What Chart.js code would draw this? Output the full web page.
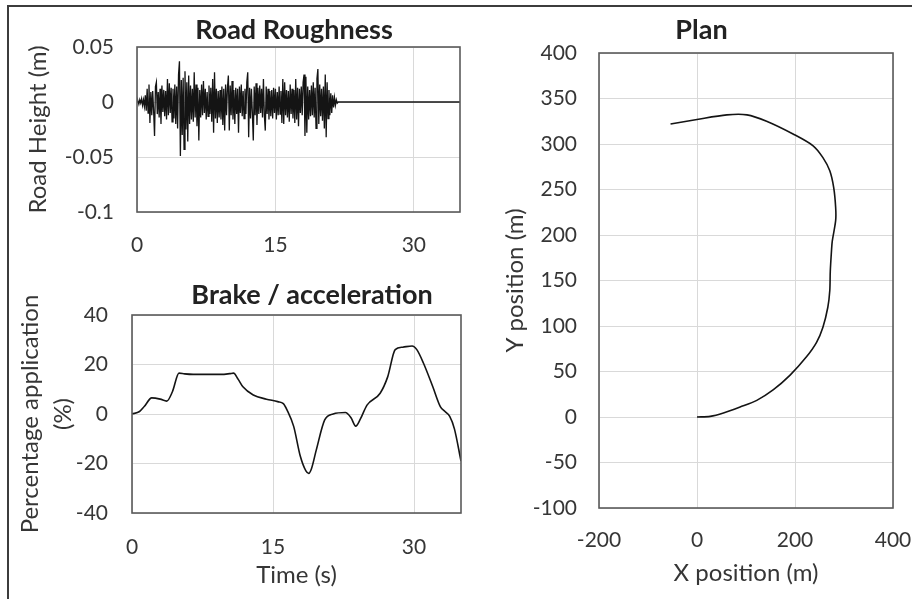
<!DOCTYPE html>
<html><head><meta charset="utf-8">
<script src="https://cdn.jsdelivr.net/npm/chart.js@4/dist/chart.umd.min.js"></script>
<style>
html,body{margin:0;padding:0;background:#fff;width:912px;height:599px;overflow:hidden;}
#frame{position:absolute;left:7px;top:5px;right:-10px;bottom:-10px;border-left:2px solid #3c3c3c;border-top:2px solid #3c3c3c;}
canvas{position:absolute;}
</style></head><body>
<div id="frame"></div>
<canvas id="c1" width="568" height="257" style="left:10px;top:8px"></canvas>
<canvas id="c2" width="604" height="334" style="left:10px;top:265px"></canvas>
<canvas id="c3" width="421" height="591" style="left:491px;top:8px"></canvas>
<script>
// ---------- data ----------
const roughStep = 0.1;      // seconds between road samples
const roughEndTime = 35;    // flat road until end of run
const roughHeight = [
 0, 0.001, -0.002, 0.002, -0.001, 0.003, -0.003, 0.002, -0.004, 0.006,
 -0.008, 0.012, -0.010, 0.016, -0.019, 0.009, -0.012, 0.010, -0.008, -0.031,
 0.014, 0.018, -0.011, 0.009, -0.014, 0.012, -0.020, 0.015, -0.009, 0.011,
 -0.013, 0.010, -0.016, 0.021, -0.012, 0.017, -0.010, 0.013, -0.018, 0.012,
 -0.015, 0.016, -0.020, 0.014, -0.024, 0.025, 0.037, -0.049, 0.020, -0.030,
 0.022, -0.043, 0.028, -0.025, 0.018, -0.036, 0.024, -0.020, 0.015, -0.016,
 0.012, -0.018, 0.027, -0.014, 0.016, -0.022, 0.013, -0.035, 0.011, -0.014,
 0.016, -0.012, 0.019, -0.010, 0.012, -0.016, 0.009, -0.013, 0.015, -0.011,
 0.013, -0.018, 0.021, -0.028, 0.027, -0.015, 0.012, -0.019, 0.010, -0.014,
 0.011, -0.016, 0.014, -0.021, 0.012, -0.026, 0.016, -0.012, 0.013, 0.024,
 -0.026, 0.015, -0.012, 0.019, -0.016, 0.011, -0.020, 0.013, -0.011, 0.012,
 -0.028, 0.014, -0.010, 0.016, -0.013, 0.010, -0.015, 0.012, -0.011, 0.018,
 0.027, -0.032, 0.013, -0.015, 0.012, -0.010, -0.035, 0.014, -0.012, 0.017,
 -0.021, 0.013, -0.011, 0.015, -0.010, 0.012, -0.014, 0.021, -0.012, -0.026,
 0.014, -0.011, 0.012, -0.016, 0.010, -0.013, 0.011, -0.015, 0.013, -0.010,
 0.012, -0.016, 0.009, -0.012, 0.014, -0.011, 0.010, -0.019, 0.021, -0.020,
 0.018, -0.012, 0.011, -0.014, 0.010, -0.018, 0.016, -0.011, 0.012, -0.015,
 0.011, -0.019, 0.021, -0.016, 0.013, -0.022, 0.012, -0.010, 0.014, -0.012,
 0.018, 0.025, -0.031, 0.023, -0.028, 0.014, -0.016, 0.011, -0.013, 0.015,
 -0.012, 0.018, -0.014, 0.013, -0.024, 0.021, 0.030, -0.020, 0.016, -0.013,
 0.012, -0.017, 0.014, -0.024, 0.025, -0.032, 0.018, -0.015, 0.011, -0.012,
 0.008, -0.010, 0.006, -0.005, 0.004, -0.003, 0.002, -0.001, 0, 0
];
const brakeTime = [0, 0.8, 1.3, 2.1, 3.0, 3.7, 4.3, 5.0, 5.6, 6.5, 8.0, 9.5, 10.4, 10.8, 11.3, 11.8, 12.9, 14.3, 15.5, 16.1, 16.5, 17.2, 17.9, 18.5, 18.8, 19.1, 19.6, 20.5, 21.4, 22.7, 23.3, 23.8, 24.3, 25.0, 26.4, 27.2, 28.0, 28.8, 29.8, 30.3, 31.0, 32.0, 32.8, 33.3, 33.8, 34.3, 35.0];
const brakePct  = [0, 1, 3, 6.5, 6, 5.2, 9, 16.5, 16.2, 16, 16, 16, 16.3, 16.5, 14, 11, 7.7, 6, 5, 4.2, 1.6, -5, -17, -23, -24, -22, -14.6, -2.4, 0, 0.6, -1.5, -4.9, -2, 3.6, 8.4, 15, 26, 27, 27.5, 26, 20.6, 11, 3, 1, -1, -6, -19];
const planX = [0, 27, 54, 88, 122, 156, 190, 223, 244, 257, 267, 271, 272, 274.5, 276, 283, 283, 279, 271, 257, 237, 196, 142, 102, 61, 0, -54];
const planY = [0, 0.7, 4.4, 11, 18.3, 30, 46, 65.8, 82, 98.7, 120.6, 139, 160, 183, 193, 216, 230, 252, 270.5, 285, 298, 311, 325, 332, 332, 327, 322];
const timeTicks = [0, 15, 30];
const roughYTicks = [0.05, 0, -0.05, -0.1];
const brakeYTicks = [40, 20, 0, -20, -40];
const planXTicks = [-200, 0, 200, 400];
const planYTicks = [400, 350, 300, 250, 200, 150, 100, 50, 0, -50, -100];

// ---------- styling helpers ----------
const FONT = 'Lato, "Open Sans", sans-serif';
const TXT = '#363636';
const GRID = '#d9d9d9';
const fixTicks = vals => s => { s.ticks = vals.map(v => ({ value: v })); };
const fixW = w => s => { s.width = w; s.paddingTop = 0; s.paddingBottom = 0; s.paddingLeft = 0; s.paddingRight = 0; };
const fixH = h => s => { s.height = h; s.paddingTop = 0; s.paddingBottom = 0; s.paddingLeft = 0; s.paddingRight = 0; };
const framePlugin = { id: 'plotFrame', afterDraw(c) {
  const a = c.chartArea, ctx = c.ctx; ctx.save();
  ctx.strokeStyle = '#5a5a5a'; ctx.lineWidth = 1.6;
  ctx.strokeRect(a.left, a.top, a.right - a.left, a.bottom - a.top); ctx.restore(); } };

function xScale(min, max, ticks, h, pad, title, tpb) {
  return { type: 'linear', position: 'bottom', min, max, afterBuildTicks: fixTicks(ticks), afterFit: fixH(h),
    grid: { color: GRID, lineWidth: 1, drawTicks: false }, border: { display: false },
    ticks: { padding: pad, color: TXT, font: { family: FONT, size: 21 }, maxRotation: 0, autoSkip: false, callback: v => String(v) },
    title: { display: !!title, text: title || '', color: TXT, font: { family: FONT, size: 24 }, padding: { top: 0, bottom: tpb || 0 } } };
}
function yScale(min, max, ticks, w, pad, title, tpt, lh) {
  return { type: 'linear', position: 'left', min, max, afterBuildTicks: fixTicks(ticks), afterFit: fixW(w),
    grid: { color: GRID, lineWidth: 1, drawTicks: false }, border: { display: false },
    ticks: { padding: pad, color: TXT, font: { family: FONT, size: 21 }, autoSkip: false, callback: v => String(v) },
    title: { display: true, text: title, color: TXT, font: { family: FONT, size: 24, lineHeight: lh || 1.2 }, padding: { top: tpt, bottom: 0 } } };
}
const spacer = w => ({ type: 'linear', position: 'right', display: true, grid: { display: false }, border: { display: false }, ticks: { display: false }, afterFit: fixW(w) });
function titleOpt(text, pt, pb) {
  return { display: true, text, color: '#222222', font: { family: FONT, size: 27, weight: 'bold' }, padding: { top: pt, bottom: pb } };
}
const base = { responsive: false, animation: false, devicePixelRatio: 1, events: [] };

// ---------- Road Roughness ----------
const roughPts = roughHeight.map((v, i) => ({ x: i * roughStep, y: v }));
roughPts.push({ x: roughEndTime, y: 0 });
new Chart(document.getElementById('c1'), {
  type: 'scatter',
  data: { datasets: [{ data: roughPts, showLine: true, borderColor: '#141414', borderWidth: 1.3, pointRadius: 0, tension: 0 }] },
  options: Object.assign({}, base, {
    plugins: { legend: { display: false }, tooltip: { enabled: false }, title: titleOpt('Road Roughness', 5.8, 0.8) },
    scales: { x: xScale(0, 35, timeTicks, 53, 20.4), y: yScale(-0.1, 0.05, roughYTicks, 127, 23, 'Road Height (m)', 13.6), spacer: spacer(118) }
  }),
  plugins: [framePlugin]
});

// ---------- Brake / acceleration ----------
new Chart(document.getElementById('c2'), {
  type: 'scatter',
  data: { datasets: [{ data: brakeTime.map((t, i) => ({ x: t, y: brakePct[i] })), showLine: true, borderColor: '#141414', borderWidth: 1.6, pointRadius: 0, cubicInterpolationMode: 'monotone' }] },
  options: Object.assign({}, base, {
    plugins: { legend: { display: false }, tooltip: { enabled: false }, title: titleOpt('Brake / acceleration', 13.8, 3.8) },
    scales: { x: xScale(0, 35, timeTicks, 86, 21.4, 'Time (s)', 9.6), y: yScale(-40, 40, brakeYTicks, 122, 24, ['Percentage application', '(%)'], 3.5, 1.375), spacer: spacer(153) }
  }),
  plugins: [framePlugin]
});

// ---------- Plan ----------
new Chart(document.getElementById('c3'), {
  type: 'scatter',
  data: { datasets: [{ data: planX.map((x, i) => ({ x, y: planY[i] })), showLine: true, borderColor: '#141414', borderWidth: 1.6, pointRadius: 0, tension: 0.3 }] },
  options: Object.assign({}, base, {
    plugins: { legend: { display: false }, tooltip: { enabled: false }, title: titleOpt('Plan', 5.8, 6.8) },
    scales: { x: xScale(-200, 400, planXTicks, 91, 19.4, 'X position (m)', 11.6), y: yScale(-100, 400, planYTicks, 108, 22, 'Y position (m)', 9.6), spacer: spacer(19) }
  }),
  plugins: [framePlugin]
});
</script>
</body></html>
